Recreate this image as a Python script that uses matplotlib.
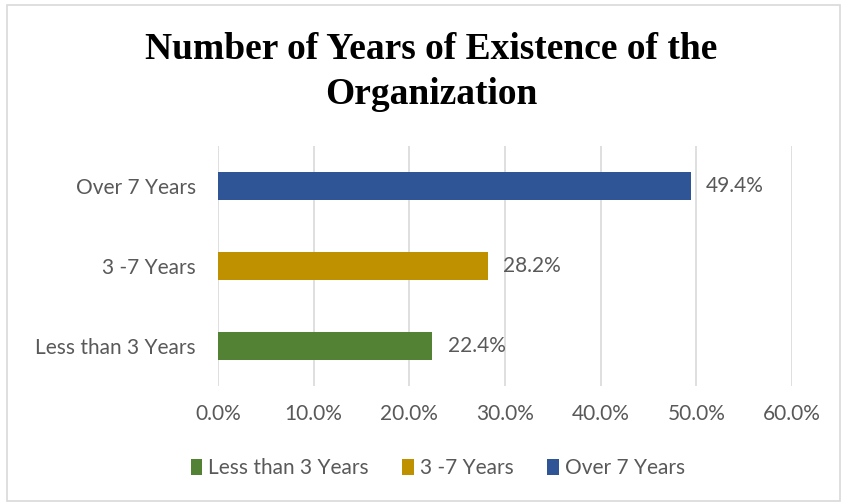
import matplotlib
matplotlib.use("Agg")
import matplotlib.pyplot as plt
from matplotlib.patches import Patch, Rectangle

# ── Dados ──────────────────────────────────────────────────────────────────────
categorias = ["Less than 3 Years", "3 -7 Years", "Over 7 Years"]
valores = [22.4, 28.2, 49.4]
cores = ["#548235", "#BF9000", "#2F5597"]
ticks_x = [0, 10, 20, 30, 40, 50, 60]

CINZA = "#595959"
FONTE = "Lato"
TAM = 15

fig = plt.figure(figsize=(8.42, 5.04), dpi=100)
ax = fig.add_axes([0.2589, 0.234, 0.6817, 0.4763])

pos = range(len(categorias))
ax.barh(pos, valores, height=0.35, color=cores, zorder=3)
for y, v in zip(pos, valores):
    ax.text(v + 1.6, y, f"{v:.1f}%", va="center", ha="left",
            fontsize=TAM, color=CINZA, family=FONTE)

ax.set_xlim(0, 60)
ax.set_ylim(-0.5, 2.5)
ax.set_xticks(ticks_x)
ax.set_xticklabels([f"{t:.1f}%" for t in ticks_x])
ax.set_yticks(list(pos))
ax.set_yticklabels(categorias)
ax.tick_params(length=0, labelsize=TAM, labelcolor=CINZA)
ax.tick_params(axis="y", pad=16)
ax.tick_params(axis="x", pad=13)
for lbl in ax.get_xticklabels() + ax.get_yticklabels():
    lbl.set_family(FONTE)
ax.grid(axis="x", color="#D9D9D9", linewidth=1.2, zorder=0)
for s in ax.spines.values():
    s.set_visible(False)

# título em duas linhas, centrado sobre o gráfico
fig.text(0.512, 0.857, "Number of Years of Existence of the\nOrganization",
         ha="center", va="center", fontsize=27, fontweight="bold",
         family="Liberation Serif", linespacing=1.35)

legenda = [Patch(facecolor=c, label=l) for c, l in zip(cores, categorias)]
fig.legend(handles=legenda, loc="center", bbox_to_anchor=(0.52, 0.071),
           ncol=3, frameon=False, handlelength=0.55, handleheight=0.85,
           handletextpad=0.3, columnspacing=1.6,
           prop={"family": FONTE, "size": TAM}, labelcolor=CINZA)

fig.patches.append(Rectangle((0.008, 0.005), 0.99, 0.985, transform=fig.transFigure,
                             fill=False, edgecolor="#D9D9D9", linewidth=1.2))

plt.savefig("out.png", dpi=100)
plt.close()
